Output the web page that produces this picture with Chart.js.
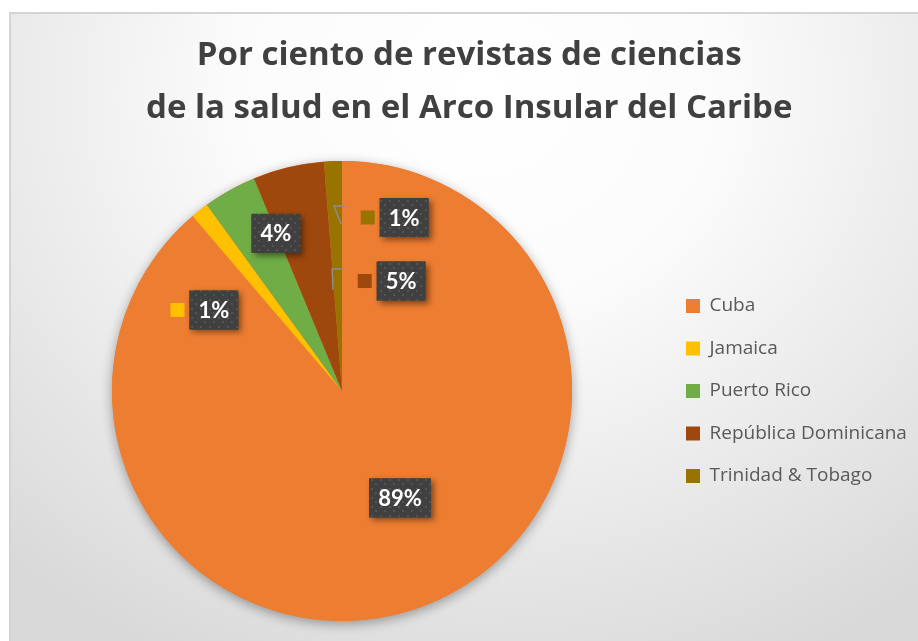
<!DOCTYPE html>
<html>
<head>
<meta charset="utf-8">
<script src="https://cdn.jsdelivr.net/npm/chart.js@4.4.1/dist/chart.umd.min.js"></script>
<style>
  html, body { margin: 0; padding: 0; background: #ffffff; overflow: hidden; }
  #marco {
    position: absolute; left: 9px; top: 12px; width: 940px; height: 660px;
    border: 2px solid #d4d4d4;
    background: radial-gradient(ellipse 75% 95% at 50% 12%, #ffffff 0%, #fbfbfb 35%, #d9d9d9 100%);
  }
  #grafica { position: absolute; left: 0; top: 0; }
</style>
</head>
<body>
<div id="marco"></div>
<canvas id="grafica" width="918" height="641"></canvas>
<script>
// Datos de la gráfica
const paises = ['Cuba', 'Jamaica', 'Puerto Rico', 'República Dominicana', 'Trinidad & Tobago'];
const revistas = [71, 1, 3, 4, 1];
const colores = ['#ED7D31', '#FFC000', '#70AD47', '#9E480E', '#997300'];
const titulo = ['Por ciento de revistas de ciencias', 'de la salud en el Arco Insular del Caribe'];

// Ubicación de las etiquetas, en radios desde el centro del pastel
const posEtiquetas = [
    { dx: 0.252, dy: 0.465, clave: false },
    { dx: -0.557, dy: -0.352, clave: true },
    { dx: -0.287, dy: -0.685, clave: false },
    { dx: 0.257, dy: -0.478, clave: true, guia: [[0.004, -0.530], [-0.043, -0.530], [-0.039, -0.439]] },
    { dx: 0.270, dy: -0.754, clave: true, guia: [[0.013, -0.804], [-0.035, -0.804], [-0.004, -0.726]] }
];

const fuenteLeyenda = { family: 'Open Sans', size: 19 };

// Textura de puntos para las cajas de las etiquetas
function crearTextura(ctx) {
    const c = document.createElement('canvas');
    c.width = 9; c.height = 9;
    const g = c.getContext('2d');
    g.fillStyle = '#404040';
    g.fillRect(0, 0, 9, 9);
    g.fillStyle = '#545454';
    g.fillRect(2, 2, 2, 2);
    g.fillRect(6, 6, 2, 2);
    return ctx.createPattern(c, 'repeat');
}

const etiquetasPlugin = {
    id: 'etiquetas',
    beforeDatasetsDraw(chart) {
        // sombra suave debajo del pastel
        const arc = chart.getDatasetMeta(0).data[0];
        const ctx = chart.ctx;
        ctx.save();
        ctx.shadowColor = 'rgba(0,0,0,0.35)';
        ctx.shadowBlur = 12;
        ctx.shadowOffsetY = 3;
        ctx.beginPath();
        ctx.arc(arc.x, arc.y, arc.outerRadius, 0, Math.PI * 2);
        ctx.fillStyle = colores[0];
        ctx.fill();
        ctx.restore();
    },
    afterDatasetsDraw(chart) {
        const ctx = chart.ctx;
        const meta = chart.getDatasetMeta(0);
        const total = revistas.reduce((a, b) => a + b, 0);
        const textura = crearTextura(ctx);
        meta.data.forEach((arc, i) => {
            const p = posEtiquetas[i];
            const R = arc.outerRadius;
            const cx = arc.x + p.dx * R;
            const cy = arc.y + p.dy * R;
            const texto = Math.round(revistas[i] / total * 100) + '%';

            // líneas guía
            if (p.guia) {
                ctx.save();
                ctx.strokeStyle = '#8c8c8c';
                ctx.lineWidth = 1.5;
                ctx.beginPath();
                p.guia.forEach((q, k) => {
                    const x = arc.x + q[0] * R, y = arc.y + q[1] * R;
                    if (k === 0) ctx.moveTo(x, y); else ctx.lineTo(x, y);
                });
                ctx.stroke();
                ctx.restore();
            }

            ctx.save();
            ctx.font = 'bold 22px Lato';
            const w = ctx.measureText(texto).width + 18;
            const h = 39;
            const x0 = cx - w / 2, y0 = cy - h / 2;

            ctx.shadowColor = 'rgba(0,0,0,0.45)';
            ctx.shadowBlur = 6;
            ctx.shadowOffsetX = 3;
            ctx.shadowOffsetY = 3;
            ctx.fillStyle = '#404040';
            ctx.fillRect(x0, y0, w, h);
            ctx.shadowColor = 'transparent';
            ctx.fillStyle = textura;
            ctx.fillRect(x0, y0, w, h);

            ctx.fillStyle = '#ffffff';
            ctx.textAlign = 'center';
            ctx.textBaseline = 'middle';
            ctx.fillText(texto, cx, cy + 1);

            if (p.clave) {
                ctx.fillStyle = colores[i];
                ctx.fillRect(x0 - 19, cy - 7, 14, 14);
            }
            ctx.restore();
        });
    }
};

// Ancho de la leyenda para dejar el pastel centrado donde va
const pad = 23.5;
const medida = document.createElement('canvas').getContext('2d');
medida.font = fuenteLeyenda.size + 'px "' + fuenteLeyenda.family + '"';
const anchoTexto = Math.max(...paises.map(t => medida.measureText(t).width));
const anchoLeyenda = pad + 14 + fuenteLeyenda.size / 2 + anchoTexto + 10;
const izqLeyenda = 662.5;
const padDerecha = 918 - izqLeyenda - anchoLeyenda;

const ctx = document.getElementById('grafica').getContext('2d');
const chart = new Chart(ctx, {
    type: 'pie',
    data: {
        labels: paises,
        datasets: [{
            data: revistas,
            backgroundColor: colores,
            borderWidth: 0
        }]
    },
    options: {
        responsive: false,
        animation: false,
        layout: { padding: { left: 21.5, right: padDerecha, top: 8, bottom: 20 } },
        plugins: {
            title: {
                display: true,
                text: titulo,
                color: '#404040',
                font: { family: 'Open Sans', size: 33, weight: 'bold', lineHeight: 1.59 },
                padding: { top: 21.5, bottom: 26.5 }
            },
            legend: {
                position: 'right',
                fullSize: false,
                labels: {
                    boxWidth: 14,
                    boxHeight: 14,
                    padding: pad,
                    color: '#595959',
                    font: fuenteLeyenda
                }
            },
            tooltip: { enabled: false }
        }
    },
    plugins: [etiquetasPlugin]
});
</script>
</body>
</html>
